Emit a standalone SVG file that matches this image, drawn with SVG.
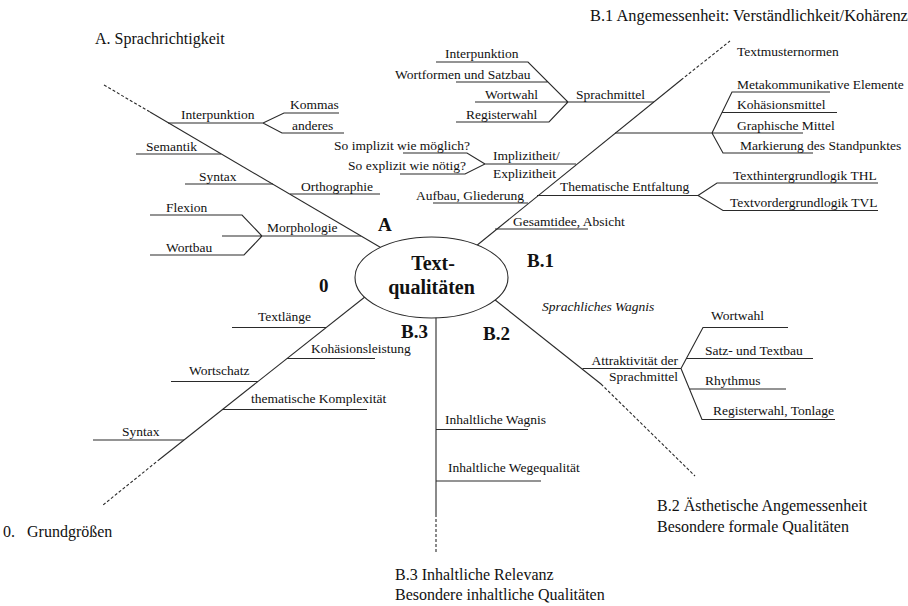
<svg xmlns="http://www.w3.org/2000/svg" width="908" height="606" viewBox="0 0 908 606">
<style>
.t{font-family:"Liberation Serif","Times New Roman",serif;font-size:13.5px;fill:#111}
.h{font-size:16px}
.i{font-style:italic}
.b{font-weight:bold;font-size:19px}
.c{font-weight:bold;font-size:20px;text-anchor:middle}
.l{stroke:#2a2a2a;stroke-width:1.1;fill:none}
.d{stroke-dasharray:3 2}
</style>
<rect width="908" height="606" fill="#fff"/>
<g id="connectors">
<path class="l" d="M150,112 L390,253"/>
<path class="l d" d="M104,85 L150,112"/>
<path class="l" d="M465,255 L681,80"/>
<path class="l d" d="M681,80 L730,41"/>
<path class="l" d="M480,288 L601,384"/>
<path class="l d" d="M601,384 L695,476"/>
<path class="l" d="M436,300 L436,514"/>
<path class="l d" d="M436,514 L436,553"/>
<path class="l" d="M380,285 L160,459"/>
<path class="l d" d="M160,459 L103,505"/>
</g>
<g id="center">
<ellipse cx="431.5" cy="277.5" rx="76.5" ry="40.5" fill="#fff" stroke="#2a2a2a" stroke-width="1.1"/>
<text class="t c" x="433" y="270">Text-</text>
<text class="t c" x="431.5" y="294">qualitäten</text>
</g>
<g id="titles">
<text class="t h" x="95" y="44">A. Sprachrichtigkeit</text>
<text class="t h" x="590" y="21" style="font-size:16.4px">B.1 Angemessenheit: Verständlichkeit/Kohärenz</text>
<text class="t h" x="3" y="537">0.<tspan x="27">Grundgrößen</tspan></text>
<text class="t h" x="657" y="511">B.2 Ästhetische Angemessenheit</text>
<text class="t h" x="657" y="532">Besondere formale Qualitäten</text>
<text class="t h" x="395" y="580">B.3 Inhaltliche Relevanz</text>
<text class="t h" x="395" y="600">Besondere inhaltliche Qualitäten</text>
</g>
<g id="labels">
<text class="t b" x="378" y="231">A</text>
<text class="t b" x="527" y="267">B.1</text>
<text class="t b" x="483" y="340">B.2</text>
<text class="t b" x="401" y="338">B.3</text>
<text class="t b" x="319" y="292">0</text>
</g>
<g id="A-interpunktion">
<path class="l" d="M168,123 L263,123 M339,113 L284,113 L263,123 L282,133 L344,133"/>
<text class="t" x="181" y="119">Interpunktion</text>
<text class="t" x="290" y="109">Kommas</text>
<text class="t" x="292" y="130">anderes</text>
</g>
<g id="A-semantik">
<path class="l" d="M136,154 L221,154"/>
<text class="t" x="146" y="150.5">Semantik</text>
</g>
<g id="A-syntax">
<path class="l" d="M185,184 L273,184"/>
<text class="t" x="199" y="180.5">Syntax</text>
</g>
<g id="A-orthographie">
<path class="l" d="M290,194 L380,194"/>
<text class="t" x="301" y="190.5">Orthographie</text>
</g>
<g id="A-morphologie">
<path class="l" d="M222,236 L361,236 M150,215 L242,215 L262,236 L244,255 L150,255"/>
<text class="t" x="267" y="231.5">Morphologie</text>
<text class="t" x="166" y="212">Flexion</text>
<text class="t" x="166" y="252">Wortbau</text>
</g>
<g id="B1-textmusternormen">
<text class="t" x="737" y="56">Textmusternormen</text>
</g>
<g id="B1-sprachmittel">
<path class="l" d="M475,102 L654,102 M436,62 L528,62 L568,102 L549,122 L456,122 M456,82 L548,82"/>
<text class="t" x="576" y="98.5">Sprachmittel</text>
<text class="t" x="445" y="57.5">Interpunktion</text>
<text class="t" x="395" y="78.5">Wortformen und Satzbau</text>
<text class="t" x="485" y="98.5">Wortwahl</text>
<text class="t" x="466" y="118.5">Registerwahl</text>
</g>
<g id="B1-mittel">
<path class="l" d="M615,133 L803,133 M830,92 L732,92 L712,133 L723,153 L813,153 M722,112.5 L837,112.5"/>
<text class="t" x="737" y="88.5">Metakommunikative Elemente</text>
<text class="t" x="737" y="109">Kohäsionsmittel</text>
<text class="t" x="737" y="129.5">Graphische Mittel</text>
<text class="t" x="740" y="149.5">Markierung des Standpunktes</text>
</g>
<g id="B1-implizitheit">
<path class="l" d="M485,164 L576,164 M403,153 L467,153 L485,164 L465,174 L400,174"/>
<text class="t" x="493" y="160">Implizitheit/</text>
<text class="t" x="493" y="178">Explizitheit</text>
<text class="t" x="334" y="149.5">So implizit wie möglich?</text>
<text class="t" x="348" y="169.5">So explizit wie nötig?</text>
</g>
<g id="B1-entfaltung">
<path class="l" d="M537,195.5 L698,195.5 M878,183 L717,183 L698,195.5 L723,210.5 L878,210.5"/>
<text class="t" x="560" y="191">Thematische Entfaltung</text>
<text class="t" x="733" y="179.5">Texthintergrundlogik THL</text>
<text class="t" x="730" y="207">Textvordergrundlogik TVL</text>
</g>
<g id="B1-aufbau">
<path class="l" d="M433,203 L528,203"/>
<text class="t" x="416" y="199.5">Aufbau, Gliederung</text>
</g>
<g id="B1-gesamtidee">
<path class="l" d="M495,229 L588,229"/>
<text class="t" x="513" y="225.5">Gesamtidee, Absicht</text>
</g>
<g id="B2-wagnis">
<text class="t i" x="542" y="310.5">Sprachliches Wagnis</text>
</g>
<g id="B2-attraktivitaet">
<path class="l" d="M582.5,368.5 L681,368.5 M788,327.5 L703,327.5 L681,368.5 L702,419.5 L835,419.5 M686.5,358.5 L813,358.5 M689.5,389 L786,389"/>
<text class="t" x="591.5" y="365">Attraktivität der</text>
<text class="t" x="609" y="381">Sprachmittel</text>
<text class="t" x="711" y="320">Wortwahl</text>
<text class="t" x="705" y="354.5">Satz- und Textbau</text>
<text class="t" x="705" y="384.5">Rhythmus</text>
<text class="t" x="713" y="414.5">Registerwahl, Tonlage</text>
</g>
<g id="B3-wagnis">
<path class="l" d="M436,429.5 L528,429.5"/>
<text class="t" x="445" y="424">Inhaltliche Wagnis</text>
</g>
<g id="B3-wegequalitaet">
<path class="l" d="M436,481 L541,481"/>
<text class="t" x="448" y="472">Inhaltliche Wegequalität</text>
</g>
<g id="G-textlaenge">
<path class="l" d="M232,327.5 L326,327.5"/>
<text class="t" x="258" y="320.5">Textlänge</text>
</g>
<g id="G-kohaesion">
<path class="l" d="M287,358.5 L375,358.5"/>
<text class="t" x="311" y="353">Kohäsionsleistung</text>
</g>
<g id="G-wortschatz">
<path class="l" d="M171,381.5 L258,381.5"/>
<text class="t" x="189" y="374.5">Wortschatz</text>
</g>
<g id="G-komplexitaet">
<path class="l" d="M222,409.5 L367,409.5"/>
<text class="t" x="251" y="403">thematische Komplexität</text>
</g>
<g id="G-syntax">
<path class="l" d="M93,440 L184,440"/>
<text class="t" x="122" y="436">Syntax</text>
</g>
</svg>
